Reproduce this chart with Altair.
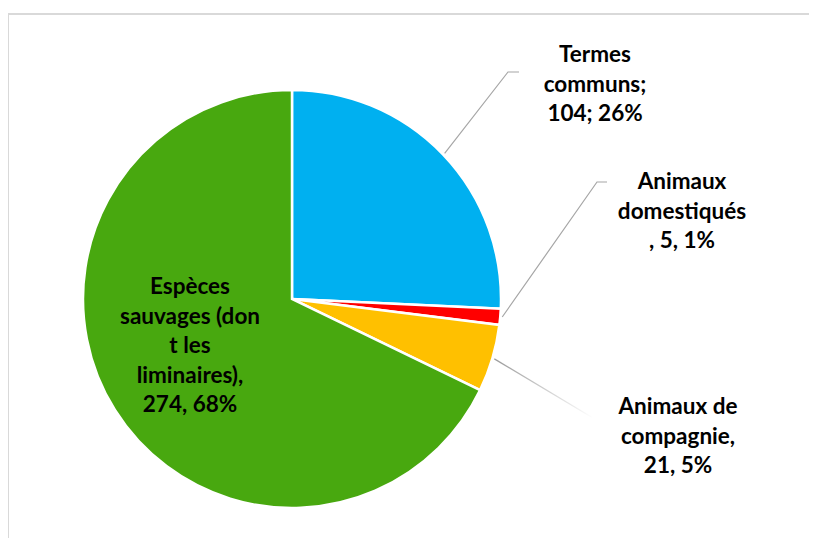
import math
import altair as alt
import pandas as pd

# ---- data ----
categories = ["Termes communs", "Animaux domestiqués", "Animaux de compagnie",
              "Espèces sauvages (dont les liminaires)"]
values = [104, 5, 21, 274]
colors = ["#00B0F0", "#FF0000", "#FFC000", "#48A80F"]
label_heads = ["Termes\ncommuns;", "Animaux\ndomestiqués\n", "Animaux de\ncompagnie,",
               "Espèces\nsauvages (don\nt les\nliminaires),"]
label_seps = [";", ",", ",", ","]
label_lead = ["\n", ", ", "\n", "\n"]

# ---- layout (view coordinates; y = first text line) ----
W, H = 801, 530
CX, CY, R = 284, 291, 209
label_pos = [(587, 47), (674, 174), (670, 399), (182, 279)]
elbows = [[(500, 64), (511, 64)], [(589, 174), (599, 174)], [(585, 410)], None]

total = sum(values)
rows, lines, cum = [], [], 0
for i, (c, v) in enumerate(zip(categories, values)):
    pct = round(v / total * 100)
    txt = f"{label_heads[i]}{label_lead[i]}{v}{label_seps[i]} {pct}%"
    rows.append(dict(cat=c, value=v, ord=i, label=txt,
                     lx=label_pos[i][0], ly=label_pos[i][1]))
    mid = (cum + v / 2) / total * 2 * math.pi
    cum += v
    if elbows[i]:
        pts = [(CX + (R + 2) * math.sin(mid), CY - (R + 2) * math.cos(mid))] + elbows[i]
        for k, (px, py) in enumerate(pts):
            lines.append(dict(cat=c, k=k, px=px, py=py, fade=(i == 2)))

df = pd.DataFrame(rows)
ldf = pd.DataFrame(lines)

color_scale = alt.Scale(domain=categories, range=colors)

pie = alt.Chart(df).mark_arc(radius=R, stroke="white", strokeWidth=2.5).encode(
    theta=alt.Theta("value:Q", stack=True),
    color=alt.Color("cat:N", scale=color_scale, legend=None),
    order=alt.Order("ord:Q"),
    x=alt.value(CX),
    y=alt.value(CY),
)

leaders = alt.Chart(ldf).transform_filter("!datum.fade").mark_line(
    color="#A6A6A6", strokeWidth=1.2).encode(
    x=alt.X("px:Q", scale=None),
    y=alt.Y("py:Q", scale=None),
    detail="cat:N",
    order="k:Q",
)

fade_leader = alt.Chart(ldf).transform_filter("datum.fade").mark_line(
    strokeWidth=1.2,
    stroke=alt.Gradient(gradient="linear", x1=0, y1=0, x2=1, y2=1,
                        stops=[alt.GradientStop(color="#9A9A9A", offset=0),
                               alt.GradientStop(color="#FFFFFF", offset=1)])).encode(
    x=alt.X("px:Q", scale=None),
    y=alt.Y("py:Q", scale=None),
    detail="cat:N",
    order="k:Q",
)

labels = alt.Chart(df).mark_text(
    font="Lato", fontWeight="bold", fontSize=22.5, lineHeight=29.5,
    lineBreak="\n", align="center", baseline="middle", color="#000000").encode(
    x=alt.X("lx:Q", scale=None),
    y=alt.Y("ly:Q", scale=None),
    text="label:N",
)

border_top = alt.Chart(df).mark_rule(color="#D9D9D9", strokeWidth=2).encode(
    x=alt.value(0), x2=alt.value(W), y=alt.value(6))
border_left = alt.Chart(df).mark_rule(color="#D9D9D9", strokeWidth=2).encode(
    x=alt.value(0), y=alt.value(6), y2=alt.value(H))

chart = alt.layer(border_top, border_left, pie, leaders, fade_leader, labels).properties(
    width=W, height=H, padding=0,
    autosize=alt.AutoSizeParams(type="none"),
    background="white",
).configure_view(stroke=None)

chart.save("out.html", embed_options={"renderer": "svg", "actions": False})
